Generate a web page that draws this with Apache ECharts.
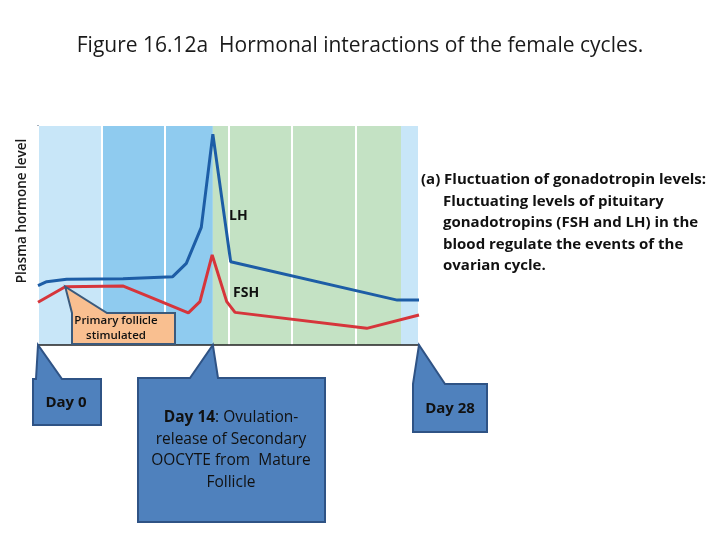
<!DOCTYPE html>
<html>
<head>
<meta charset="utf-8">
<script src="https://cdn.jsdelivr.net/npm/echarts@6/dist/echarts.min.js"></script>
<style>
  html, body { margin: 0; padding: 0; background: #fff; }
  #main { width: 720px; height: 540px; }
</style>
</head>
<body>
<div id="main"></div>
<script>
/* cycle days (x) and hormone levels (y, arbitrary 0-100) */
var lhDays   = [0, 0.64, 2.1, 6.25, 9.9, 10.9, 12.0, 12.85, 14.16, 26.4, 28];
var lhLevel  = [27.1, 28.9, 30.0, 30.3, 31.2, 37.3, 53.7, 96.3, 38.0, 20.5, 20.5];
var fshDays  = [0, 2.0, 6.27, 8.47, 11.05, 11.9, 12.8, 13.87, 14.48, 24.16, 28];
var fshLevel = [19.5, 26.6, 26.9, 21.3, 14.7, 19.8, 41.1, 19.8, 14.9, 7.6, 13.7];

/* background phase bands [from, to] in days */
var bandDays   = [[0, 4.667], [4.667, 12.85], [12.85, 26.68], [26.68, 28]];
var bandColors = ['#c8e6f8', '#8fcbef', '#c4e2c4', '#c8e6f8'];

var peakDay = 12.85;

function pairs(xs, ys) {
    var out = [];
    for (var i = 0; i < xs.length; i++) out.push([xs[i], ys[i]]);
    return out;
}

var bands = [];
for (var i = 0; i < bandDays.length; i++) {
    bands.push([
        { xAxis: bandDays[i][0], itemStyle: { color: bandColors[i], opacity: 1 } },
        { xAxis: bandDays[i][1] }
    ]);
}

var font = 'Open Sans';

var option = {
    animation: false,
    backgroundColor: '#ffffff',
    title: {
        text: 'Figure 16.12a  Hormonal interactions of the female cycles.',
        left: 'center',
        top: 31,
        textStyle: { fontFamily: font, fontSize: 21, fontWeight: 'normal', color: '#1a1a1a' }
    },
    grid: { left: 38, right: 301, top: 126, bottom: 195 },
    xAxis: {
        type: 'value',
        min: 0,
        max: 28,
        interval: 28 / 6,
        axisLine: { show: true, lineStyle: { color: '#222', width: 1.5 } },
        axisTick: { show: false },
        axisLabel: { show: false },
        splitLine: { show: true, lineStyle: { color: '#ffffff', width: 2 } },
        z: 3
    },
    yAxis: {
        type: 'value',
        min: 0,
        max: 100,
        axisLine: { show: true, lineStyle: { color: '#8a98a8', width: 2 } },
        axisTick: { show: false },
        axisLabel: { show: false },
        splitLine: { show: false }
    },
    series: [
        {
            name: 'bands',
            type: 'line',
            data: [],
            silent: true,
            markArea: { silent: true, data: bands },
            z: 0
        },
        {
            name: 'FSH',
            type: 'line',
            data: pairs(fshDays, fshLevel),
            symbol: 'none',
            lineStyle: { color: '#d6353b', width: 3 },
            z: 4
        },
        {
            name: 'LH',
            type: 'line',
            data: pairs(lhDays, lhLevel),
            symbol: 'none',
            lineStyle: { color: '#1d5da6', width: 3 },
            z: 5
        }
    ]
};

var chart = echarts.init(document.getElementById('main'));
chart.setOption(option);

/* annotations: tips are taken from the axes, boxes are layout */
function px(day, level) {
    return chart.convertToPixel({ gridIndex: 0 }, [day, level]);
}

function callout(box, baseL, baseR, tip, fill, stroke) {
    // box: [x, y, w, h]; tail base on top edge from baseL to baseR
    var x = box[0], y = box[1], w = box[2], h = box[3];
    return {
        type: 'polygon',
        z: 50,
        shape: { points: [[x, y], [baseL, y], tip, [baseR, y], [x + w, y], [x + w, y + h], [x, y + h]] },
        style: { fill: fill, stroke: stroke, lineWidth: 2 }
    };
}

function text(x, y, str, size, align, weight) {
    return {
        type: 'text',
        z: 60,
        style: {
            text: str,
            x: x,
            y: y,
            fill: '#111',
            font: (weight || 'bold') + ' ' + size + 'px "' + font + '"',
            textAlign: align || 'left',
            textVerticalAlign: 'middle'
        }
    };
}

var axisY = px(0, 0)[1];
var tip0 = [px(0, 0)[0], axisY];
var tip14 = [px(peakDay, 0)[0], axisY];
var tip28 = [px(28, 0)[0], axisY];
var tipFollicle = px(fshDays[1], fshLevel[1]);

var blueFill = '#4f81bd', blueLine = '#2f5385';

chart.setOption({
    graphic: [
        {
            type: 'text',
            z: 60,
            rotation: Math.PI / 2,
            x: 22,
            y: 211,
            style: {
                text: 'Plasma hormone level',
                x: 0,
                y: 0,
                fill: '#1a1a1a',
                font: '600 13.5px "' + font + '"',
                textAlign: 'center',
                textVerticalAlign: 'middle'
            }
        },

        callout([72, 313, 103, 31], 72, 107, tipFollicle, '#f9bf90', '#3b5a7c'),
        text(116, 321, 'Primary follicle', 11.5, 'center', '600'),
        text(116, 336, 'stimulated', 11.5, 'center', '600'),

        callout([33, 379, 68, 46], 36, 62, tip0, blueFill, blueLine),
        text(66, 403, 'Day 0', 15, 'center'),

        callout([138, 378, 187, 144], 190, 218, tip14, blueFill, blueLine),
        {
            type: 'text',
            z: 60,
            style: {
                text: '{b|Day 14}: Ovulation-\nrelease of Secondary\nOOCYTE from  Mature\nFollicle',
                x: 231,
                y: 450,
                textAlign: 'center',
                textVerticalAlign: 'middle',
                fill: '#111',
                font: '15.5px "' + font + '"',
                lineHeight: 21.5,
                rich: {
                    b: { font: 'bold 15.5px "' + font + '"', fill: '#111', lineHeight: 21.5 }
                }
            }
        },

        callout([413, 384, 74, 48], 413, 445, tip28, blueFill, blueLine),
        text(450, 409, 'Day 28', 15, 'center'),

        text(229, 216, 'LH', 14, 'left'),
        text(233, 293, 'FSH', 14, 'left'),

        text(421, 180, '(a) Fluctuation of gonadotropin levels:', 15, 'left'),
        text(443, 201.5, 'Fluctuating levels of pituitary', 15, 'left'),
        text(443, 223, 'gonadotropins (FSH and LH) in the', 15, 'left'),
        text(443, 244.5, 'blood regulate the events of the', 15, 'left'),
        text(443, 266, 'ovarian cycle.', 15, 'left')
    ]
});
</script>
</body>
</html>
